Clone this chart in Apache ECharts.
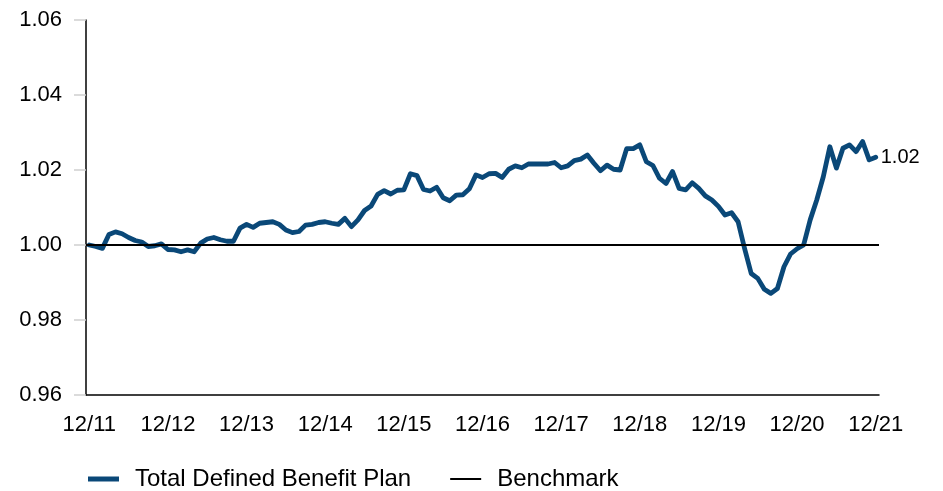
<!DOCTYPE html>
<html>
<head>
<meta charset="utf-8">
<script src="https://cdn.jsdelivr.net/npm/echarts@6/dist/echarts.min.js"></script>
<style>
  html, body { margin: 0; padding: 0; background: #fff; }
  #chart { width: 943px; height: 491px; }
</style>
</head>
<body>
<div id="chart"></div>
<script>
// monthly labels 12/11 .. 12/21
const months = ['12/11'];
for (let y = 12; y <= 21; y++) {
  for (let m = 1; m <= 12; m++) {
    months.push(m + '/' + y);
  }
}

const planValues = [
  1.0000, 0.9996, 0.9991, 1.0028, 1.0035, 1.0030, 1.0020, 1.0012, 1.0008, 0.9996,
  0.9998, 1.0003, 0.9988, 0.9987, 0.9982, 0.9987, 0.9982, 1.0005, 1.0016, 1.0020,
  1.0014, 1.0010, 1.0010, 1.0045, 1.0055, 1.0047, 1.0058, 1.0060, 1.0062, 1.0055,
  1.0040, 1.0033, 1.0036, 1.0053, 1.0055, 1.0060, 1.0062, 1.0058, 1.0055, 1.0071,
  1.0049, 1.0067, 1.0092, 1.0104, 1.0135, 1.0145, 1.0136, 1.0146, 1.0147, 1.0190,
  1.0185, 1.0148, 1.0144, 1.0154, 1.0126, 1.0118, 1.0133, 1.0134, 1.0150, 1.0187,
  1.0180, 1.0190, 1.0191, 1.0180, 1.0202, 1.0211, 1.0206, 1.0216, 1.0216, 1.0216,
  1.0216, 1.0220, 1.0206, 1.0211, 1.0225, 1.0229, 1.0240, 1.0218, 1.0198, 1.0213,
  1.0202, 1.0200, 1.0257, 1.0257, 1.0267, 1.0222, 1.0212, 1.0178, 1.0164, 1.0196,
  1.0151, 1.0147, 1.0166, 1.0151, 1.0131, 1.0120, 1.0103, 1.0080, 1.0086, 1.0062,
  0.9990, 0.9924, 0.9911, 0.9882, 0.9871, 0.9884, 0.9942, 0.9976, 0.9990, 1.0000,
  1.0067, 1.0120, 1.0182, 1.0262, 1.0205, 1.0258, 1.0267, 1.0249, 1.0276, 1.0227,
  1.0234
];

const benchmarkLevel = 1.00;
const yTicks = { min: 0.96, max: 1.06, step: 0.02 };

const font = 'Liberation Sans, Arial, sans-serif';
const blue = '#0a4878';
const chart = echarts.init(document.getElementById('chart'));

const isYearEnd = (idx) => idx % 12 === 0;

chart.setOption({
  animation: false,
  textStyle: { fontFamily: font },
  grid: { left: 86, right: 64, top: 20, bottom: 96 },
  legend: {
    left: 88,
    top: 467,
    padding: 0,
    itemWidth: 31,
    itemHeight: 24,
    itemGap: 39,
    textStyle: { color: '#000', fontSize: 24, fontFamily: font, padding: [0, 0, 0, 11] },
    data: [
      { name: 'Total Defined Benefit Plan', icon: 'path://M0,0H31V5H0Z', itemStyle: { color: blue } },
      { name: 'Benchmark', icon: 'path://M0,0H31V2H0Z', itemStyle: { color: '#000' } }
    ]
  },
  xAxis: {
    type: 'category',
    data: months,
    boundaryGap: true,
    axisLine: { lineStyle: { color: '#000', width: 1.5 } },
    axisTick: { alignWithLabel: true, interval: isYearEnd, length: 11, lineStyle: { color: '#d0d0d0', width: 1.5 } },
    axisLabel: { interval: isYearEnd, color: '#000', fontSize: 22, fontFamily: font, margin: 19 },
    splitLine: { show: false }
  },
  yAxis: {
    type: 'value',
    min: yTicks.min,
    max: yTicks.max,
    interval: yTicks.step,
    axisLine: { show: true, lineStyle: { color: '#000', width: 1.5 } },
    axisTick: { show: true, length: 12, lineStyle: { color: '#d0d0d0', width: 1.5 } },
    axisLabel: { color: '#000', fontSize: 22, fontFamily: font, margin: 24, formatter: (v) => v.toFixed(2) },
    splitLine: { show: false }
  },
  series: [
    {
      name: 'Total Defined Benefit Plan',
      type: 'line',
      data: planValues,
      showSymbol: false,
      symbol: 'none',
      color: blue,
      lineStyle: { color: blue, width: 4.8, cap: 'round', join: 'round' },
      endLabel: {
        show: true,
        color: '#000',
        fontSize: 20,
        fontFamily: font,
        distance: 5,
        formatter: (p) => p.value.toFixed(2)
      },
      z: 3
    },
    {
      name: 'Benchmark',
      type: 'line',
      data: [],
      symbol: 'none',
      color: '#000',
      lineStyle: { color: '#000', width: 2 },
      markLine: {
        silent: true,
        symbol: 'none',
        label: { show: false },
        lineStyle: { color: '#000', width: 2, type: 'solid' },
        data: [{ yAxis: benchmarkLevel }]
      },
      z: 4
    }
  ]
});
</script>
</body>
</html>
